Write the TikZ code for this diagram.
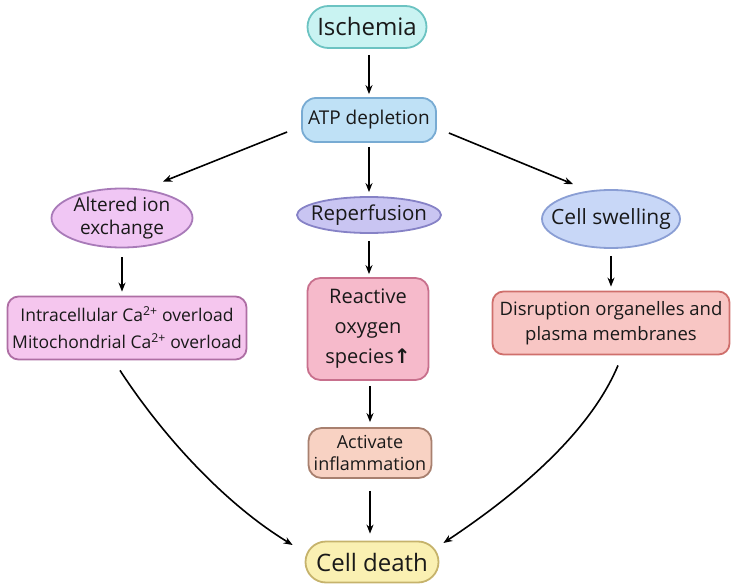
\documentclass[tikz,border=0pt]{standalone}
\usepackage{fontspec}
\setmainfont{Open Sans}
\newfontfamily\dejavu{DejaVu Sans}
\usetikzlibrary{shapes.misc,shapes.geometric,arrows.meta}
\definecolor{cyanF}{HTML}{C9F3F2}\definecolor{cyanD}{HTML}{6CC3C2}
\definecolor{atpF}{HTML}{BFE1F6}\definecolor{atpD}{HTML}{78ABD3}
\definecolor{altF}{HTML}{F0C6F4}\definecolor{altD}{HTML}{A87AB8}
\definecolor{repF}{HTML}{C9C5F2}\definecolor{repD}{HTML}{8682C6}
\definecolor{swF}{HTML}{C8D7F7}\definecolor{swD}{HTML}{8A9ED4}
\definecolor{intF}{HTML}{F5C6EE}\definecolor{intD}{HTML}{AE6EA4}
\definecolor{rosF}{HTML}{F6BACB}\definecolor{rosD}{HTML}{C8708D}
\definecolor{disF}{HTML}{F8C6C4}\definecolor{disD}{HTML}{CF6F6C}
\definecolor{actF}{HTML}{F8D2C3}\definecolor{actD}{HTML}{A8806F}
\definecolor{cdF}{HTML}{FAF0B2}\definecolor{cdD}{HTML}{C6B36C}
\tikzset{
  base/.style={line width=1.8pt, inner sep=1pt, align=center, text=black!90},
  pill/.style={base, rounded rectangle},
  oval/.style={base, ellipse, inner sep=0pt},
  rbox/.style={base, rectangle, rounded corners=11pt},
  arr/.style={-{Stealth[length=9pt,width=7pt]}, line width=1.6pt, black}
}
\begin{document}
\begin{tikzpicture}[x=1pt,y=-1pt]
\useasboundingbox (0,0) rectangle (739,588);
\node[pill, draw=cyanD, fill=cyanF, minimum width=121pt, minimum height=42pt, font=\fontsize{24}{26}\selectfont] (isc) at (367,27) {Ischemia};
\node[rbox, rounded corners=14pt, draw=atpD, fill=atpF, minimum width=134pt, minimum height=44pt, font=\fontsize{19}{21}\selectfont] (atp) at (369,120) {ATP depletion};
\node[oval, inner xsep=-3pt, inner ysep=-4pt, draw=altD, fill=altF, minimum width=141pt, minimum height=59pt, font=\fontsize{19}{23}\selectfont] (alt) at (122,218) {Altered ion\\exchange};
\node[oval, inner xsep=-11.5pt, inner ysep=-4pt, draw=repD, fill=repF, minimum width=144pt, minimum height=36pt, font=\fontsize{20.5}{22}\selectfont] (rep) at (369,215) {Reperfusion};
\node[oval, inner xsep=-11pt, inner ysep=-2pt, draw=swD, fill=swF, minimum width=138pt, minimum height=58pt, font=\fontsize{21}{23}\selectfont] (sw) at (611,219) {Cell swelling};
\node[rbox, draw=intD, fill=intF, minimum width=239pt, minimum height=63pt, font=\fontsize{17.5}{27}\selectfont] (int) at (127,328) {Intracellular Ca\textsuperscript{2+} overload\\Mitochondrial Ca\textsuperscript{2+} overload};
\node[rbox, rounded corners=13pt, draw=rosD, fill=rosF, minimum width=121pt, minimum height=102pt, font=\fontsize{20}{30}\selectfont] (ros) at (368,329) {Reactive\\oxygen\\species{\dejavu\bfseries ↑}};
\node[rbox, draw=disD, fill=disF, minimum width=237pt, minimum height=63pt, font=\fontsize{18.5}{25}\selectfont] (dis) at (611,323) {Disruption organelles and\\plasma membranes};
\node[rbox, rounded corners=13pt, draw=actD, fill=actF, minimum width=123pt, minimum height=50pt, font=\fontsize{18}{22}\selectfont] (act) at (370,453) {Activate\\inflammation};
\node[pill, draw=cdD, fill=cdF, minimum width=135pt, minimum height=41pt, font=\fontsize{24}{26}\selectfont] (cd) at (372,562) {Cell death};
\draw[arr, shorten <=6pt, shorten >=3pt] (atp.north |- isc.south) -- (atp.north);
\draw[arr] ([shift={(-14,12)}]atp.west) -- ([shift={(41,-6)}]alt.north);
\draw[arr, shorten <=4pt, shorten >=4pt] (atp.south) -- (rep.north);
\draw[arr] ([shift={(12,13)}]atp.east) -- ([shift={(-38,-5)}]sw.north);
\draw[arr, shorten <=9pt, shorten >=4pt] (alt.south) -- (alt.south |- int.north);
\draw[arr, shorten <=7pt, shorten >=3pt] (rep.south) -- (rep.south |- ros.north);
\draw[arr, shorten <=7pt, shorten >=4pt] (sw.south) -- (sw.south |- dis.north);
\draw[arr, shorten <=5pt, shorten >=5pt] (act.north |- ros.south) -- (act.north);
\draw[arr, shorten <=12pt, shorten >=7pt] (act.south) -- (act.south |- cd.north);
\draw[arr] ([shift={(-7,10)}]int.south) .. controls (160,432) and (222,502) .. ([shift={(-12,-17)}]cd.west);
\draw[arr] ([shift={(7,10)}]dis.south) .. controls (590,432) and (520,492) .. ([shift={(4,-19)}]cd.east);
\end{tikzpicture}
\end{document}
